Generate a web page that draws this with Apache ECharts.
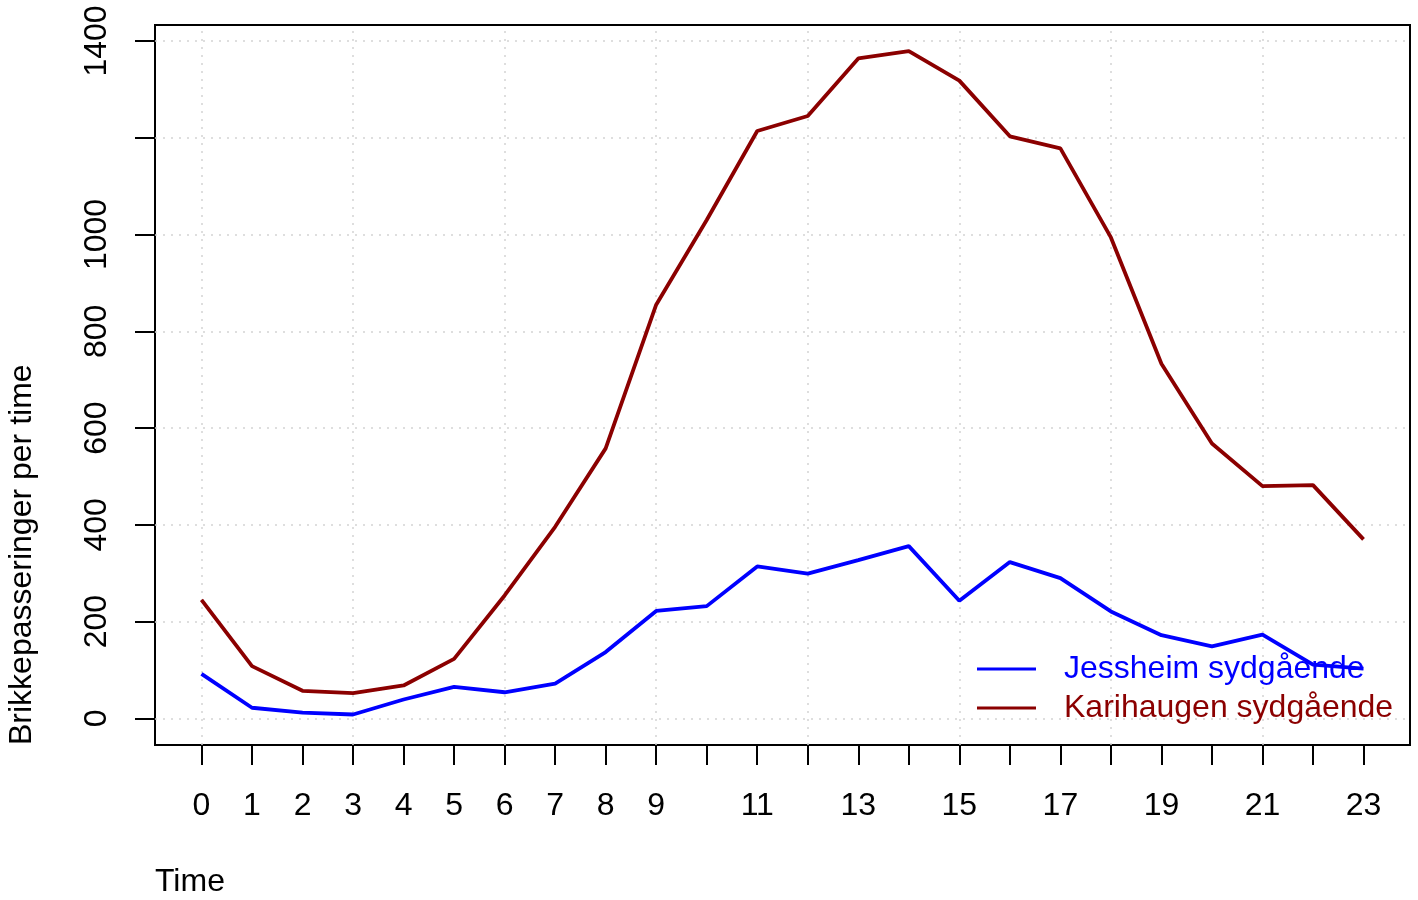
<!DOCTYPE html>
<html>
<head>
<meta charset="utf-8">
<script src="https://cdn.jsdelivr.net/npm/echarts@6/dist/echarts.min.js"></script>
<style>html,body{margin:0;padding:0;background:#fff}#c{width:1418px;height:900px}</style>
</head>
<body>
<div id="c"></div>
<script>
const hours = [0,1,2,3,4,5,6,7,8,9,10,11,12,13,14,15,16,17,18,19,20,21,22,23];
const jessheim = [92,22,12,8,39,65,54,72,137,222,232,314,299,327,356,243,323,290,221,172,149,173,111,103];
const karihaugen = [245,108,57,52,68,123,254,396,558,855,1030,1214,1245,1364,1379,1318,1203,1178,994,733,568,480,482,370];
const seriesNames = ['Jessheim sydgående','Karihaugen sydgående'];
const xTicks = hours;
const xTickLabels = [0,1,2,3,4,5,6,7,8,9,11,13,15,17,19,21,23];
const yTicks = [0,200,400,600,800,1000,1200,1400];
const yTickLabels = [0,200,400,600,800,1000,1400];
const xGrid = [0,3,6,9,12,15,18,21];
const yGrid = [0,200,400,600,800,1000,1200,1400];
const xTitle = 'Time';
const yTitle = 'Brikkepasseringer per time';

const FONT = '"Liberation Sans", Arial, Helvetica, sans-serif';
const chart = echarts.init(document.getElementById('c'));
const gridStyle = {color:'#D3D3D3', type:[2,6], width:1.5};
chart.setOption({
  animation:false,
  backgroundColor:'#fff',
  grid:{left:155, top:25, width:1255, height:720, show:true, borderColor:'#000', borderWidth:2, backgroundColor:'transparent'},
  xAxis:{type:'value', min:-0.92, max:23.92,
    axisLine:{show:false, onZero:false},
    splitLine:{show:false},
    axisTick:{show:true, inside:false, length:20, customValues:xTicks, lineStyle:{color:'#000', width:2}},
    axisLabel:{show:true, customValues:xTickLabels, margin:45, fontSize:32, color:'#000', fontFamily:FONT, formatter:v=>String(v)}
  },
  yAxis:{type:'value', min:-55, max:1433,
    axisLine:{show:false, onZero:false},
    splitLine:{show:false},
    axisTick:{show:true, inside:false, length:20, customValues:yTicks, lineStyle:{color:'#000', width:2}},
    axisLabel:{show:true, customValues:yTickLabels, rotate:90, margin:42, fontSize:32, color:'#000', fontFamily:FONT, formatter:v=>String(v)}
  },
  legend:{orient:'vertical', left:977, top:653, padding:0, icon:'rect', itemWidth:59, itemHeight:3, itemGap:7,
    data:[{name:seriesNames[0], textStyle:{color:'#0000FF'}},{name:seriesNames[1], textStyle:{color:'#8B0000'}}],
    textStyle:{fontSize:32, fontFamily:FONT, padding:[0,0,0,23]}
  },
  graphic:[
    {type:'text', x:155, y:882, style:{text:xTitle, font:'32px '+FONT, fill:'#000', textAlign:'left', textVerticalAlign:'middle'}},
    {type:'text', x:22, y:745, rotation:Math.PI/2, style:{text:yTitle, font:'32px '+FONT, fill:'#000', textAlign:'left', textVerticalAlign:'middle'}}
  ],
  series:[
    {name:'grid', type:'line', data:[], z:1, silent:true,
      markLine:{z:1, silent:true, symbol:'none', label:{show:false}, lineStyle:gridStyle, animation:false,
        data: xGrid.map(v=>({xAxis:v})).concat(yGrid.map(v=>({yAxis:v})))}},
    {name:seriesNames[0], type:'line', symbol:'none', z:10, data:hours.map((h,i)=>[h,jessheim[i]]), lineStyle:{color:'#0000FF', width:3.8}, itemStyle:{color:'#0000FF'}},
    {name:seriesNames[1], type:'line', symbol:'none', z:10, data:hours.map((h,i)=>[h,karihaugen[i]]), lineStyle:{color:'#8B0000', width:3.8}, itemStyle:{color:'#8B0000'}}
  ]
});
</script>
</body>
</html>
